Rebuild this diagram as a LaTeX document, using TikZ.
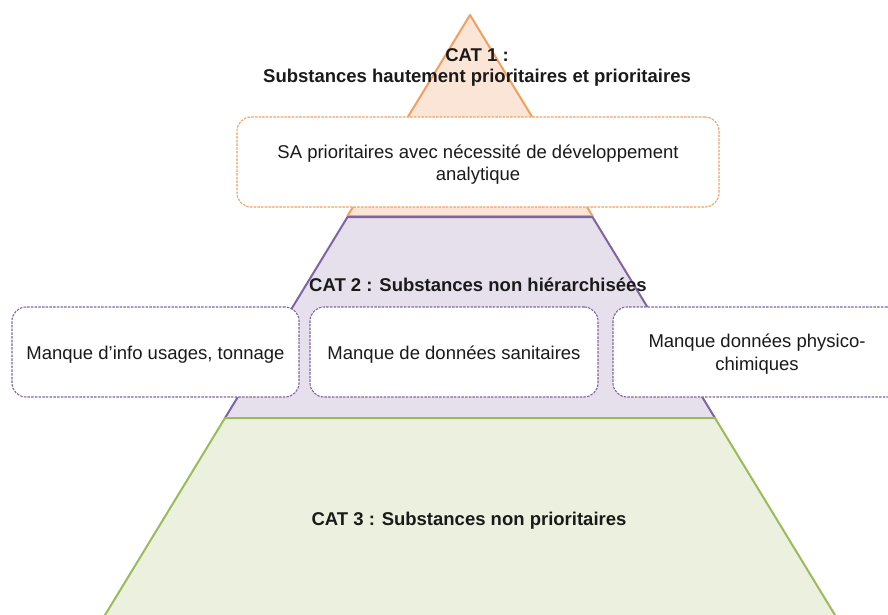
\documentclass[tikz,border=0pt]{standalone}
\usepackage{fontspec}
\setmainfont{Liberation Sans}
\definecolor{orS}{HTML}{F2A05E}
\definecolor{orF}{HTML}{FBE5D6}
\definecolor{puS}{HTML}{8064A2}
\definecolor{puF}{HTML}{E6E0EC}
\definecolor{grS}{HTML}{9BBB59}
\definecolor{grF}{HTML}{EBF1DE}
\definecolor{txt}{HTML}{1A1A1A}
\begin{document}
\begin{tikzpicture}[x=1pt,y=-1pt,
  catlabel/.style={font=\fontsize{18.5}{21}\selectfont\bfseries, text=txt, align=center, inner sep=0pt},
  infobox/.style={draw, fill=white, rounded corners=14pt, line width=1.1pt,
     dash pattern=on 2.5pt off 1.2pt, font=\fontsize{18.5}{22.5}\selectfont, text=txt,
     align=center, minimum height=90pt, inner sep=0pt},
  tier/.style={line width=2pt, line join=round}]
\useasboundingbox (0,0) rectangle (888,615);
\clip (0,0) rectangle (888,615);
% pyramid tiers
\filldraw[tier, draw=orS, fill=orF] (470,15) -- (592.5,216) -- (347.5,216) -- cycle;
\filldraw[tier, draw=puS, fill=puF] (347.5,217) -- (592.5,217) -- (715,418) -- (225,418) -- cycle;
\filldraw[tier, draw=grS, fill=grF] (225,418) -- (715,418) -- (838,620) -- (102,620) -- cycle;
% boxes
\node[infobox, draw=orS, minimum width=482pt] (sa) at (478,162) {};
\node[text=txt, font=\fontsize{18.5}{22.5}\selectfont, align=center, inner sep=0pt] (satext) at (478,164.5)
  {SA prioritaires avec nécessité de développement\\analytique};
\node[infobox, draw=puS, minimum width=287pt] (usage) at (155.5,352) {};
\node[text=txt, font=\fontsize{18.5}{22.5}\selectfont, inner sep=0pt] (usagetext) at (155.5,354.5)
  {Manque d’info usages, tonnage};
\node[infobox, draw=puS, minimum width=288pt] (sanit) at (454,352) {};
\node[text=txt, font=\fontsize{18.5}{22.5}\selectfont, inner sep=0pt] (sanittext) at (454,354.5)
  {Manque de données sanitaires};
\node[infobox, draw=puS, minimum width=288pt] (physico) at (757,352) {};
\node[text=txt, font=\fontsize{18.5}{22.5}\selectfont, align=center, inner sep=0pt] (physicotext) at (757,354)
  {Manque données physico-\\chimiques};
% labels
\node[catlabel] (cat1) at (477,67) {CAT 1 :\\Substances hautement prioritaires et prioritaires};
\node[catlabel] (cat2) at (478,285) {CAT 2 : Substances non hiérarchisées};
\node[catlabel] (cat3) at (469,521) {CAT 3 : Substances non prioritaires};
\end{tikzpicture}
\end{document}
